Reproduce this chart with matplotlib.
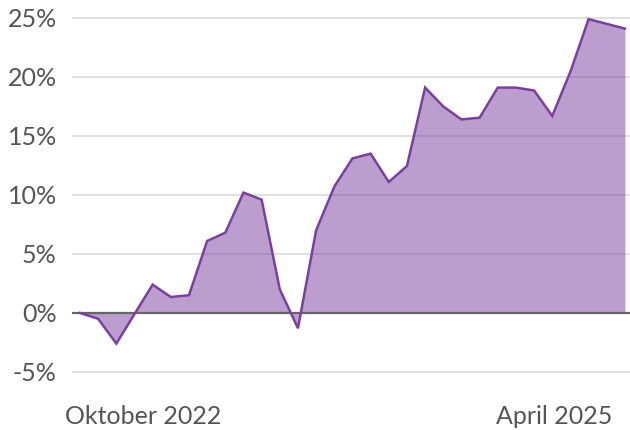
import matplotlib
matplotlib.use("Agg")
import matplotlib.pyplot as plt
import numpy as np

# Data (percent), 31 evenly spaced observations
values = [0.0, -0.5, -2.6, -0.1, 2.4, 1.35, 1.5, 6.1, 6.8, 10.2, 9.6, 2.0, -1.3,
          7.0, 10.7, 13.1, 13.5, 11.1, 12.45, 19.1, 17.5, 16.4, 16.55, 19.1, 19.1,
          18.85, 16.7, 20.45, 24.9, 24.5, 24.1]
x_labels = ["Oktober 2022", "April 2025"]
x_label_pos = [3.5, 26.1]
y_ticks = [-5, 0, 5, 10, 15, 20, 25]
y_tick_labels = ["-5%", "0%", "5%", "10%", "15%", "20%", "25%"]

plt.rcParams['font.family'] = ['Lato', 'DejaVu Sans']

fig = plt.figure(figsize=(6.3, 4.3), dpi=100)
ax = fig.add_axes([72/630, (430-379)/430, (630-72)/630, (379-10.9)/430])

x = np.arange(len(values))
purple = '#7b3f9e'
ax.fill_between(x, values, 0, color=purple, alpha=0.5, linewidth=0, zorder=2)
ax.plot(x, values, color=purple, linewidth=1.8, zorder=4, solid_joinstyle='miter')
ax.axhline(0, color='#666666', linewidth=1.6, zorder=3)

ax.set_xlim(-0.44, 30.28)
ax.set_ylim(-5.6, 25.6)
ax.set_yticks(y_ticks)
ax.set_yticklabels(y_tick_labels)
ax.set_xticks(x_label_pos)
ax.set_xticklabels(x_labels)
ax.grid(axis='y', color='#dcdcdc', linewidth=1.2, zorder=1)
ax.set_axisbelow(True)
for s in ax.spines.values():
    s.set_visible(False)
ax.tick_params(axis='both', length=0, labelsize=18, labelcolor='#555555')
ax.tick_params(axis='y', pad=11)
ax.tick_params(axis='x', pad=19)

fig.savefig("out.png", dpi=100)
